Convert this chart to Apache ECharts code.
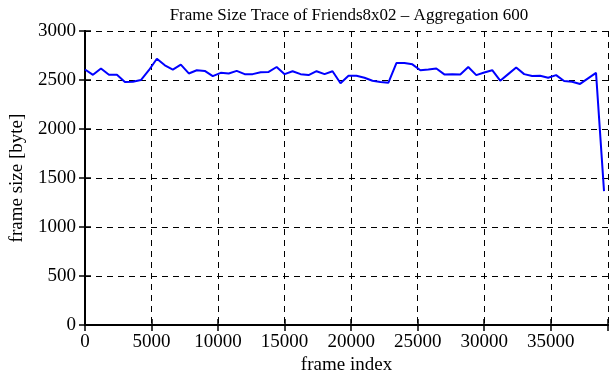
<!DOCTYPE html>
<html>
<head>
<meta charset="utf-8">
<script src="https://cdn.jsdelivr.net/npm/echarts@6/dist/echarts.min.js"></script>
<style>
  html, body { margin: 0; padding: 0; background: #fff; }
  #main { width: 611px; height: 380px; }
</style>
</head>
<body>
<div id="main"></div>
<script>
// frame index of each aggregated point (aggregation 600)
var frameIndex = [
    0, 600, 1200, 1800, 2400, 3000, 3600, 4200, 4800, 5400,
    6000, 6600, 7200, 7800, 8400, 9000, 9600, 10200, 10800, 11400,
    12000, 12600, 13200, 13800, 14400, 15000, 15600, 16200, 16800, 17400,
    18000, 18600, 19200, 19800, 20400, 21000, 21600, 22200, 22800, 23400,
    24000, 24600, 25200, 25800, 26400, 27000, 27600, 28200, 28800, 29400,
    30000, 30600, 31200, 31800, 32400, 33000, 33600, 34200, 34800, 35400,
    36000, 36600, 37200, 37800, 38400, 39000
];
// frame size in bytes
var frameSize = [
    2607, 2553, 2617, 2553, 2553, 2480, 2483, 2500, 2600, 2717,
    2650, 2607, 2657, 2567, 2600, 2593, 2540, 2573, 2567, 2593,
    2560, 2560, 2580, 2583, 2633, 2560, 2590, 2560, 2550, 2590,
    2560, 2590, 2467, 2543, 2543, 2523, 2493, 2480, 2473, 2673,
    2673, 2660, 2600, 2607, 2617, 2557, 2560, 2557, 2633, 2550,
    2577, 2600, 2493, 2560, 2627, 2560, 2540, 2543, 2523, 2550,
    2490, 2483, 2460, 2517, 2573, 1367
];
var xTicks = [0, 5000, 10000, 15000, 20000, 25000, 30000, 35000];
var yTicks = [0, 500, 1000, 1500, 2000, 2500, 3000];

var font = 'Liberation Serif';
var pts = [];
for (var i = 0; i < frameIndex.length; i++) {
    pts.push([frameIndex[i], frameSize[i]]);
}

var chart = echarts.init(document.getElementById('main'));

var dashed = { show: true, lineStyle: { color: '#000', type: [6, 5], width: 1 } };
var axLine = { show: true, lineStyle: { color: '#000', width: 2 } };
var tickIn = { show: true, inside: true, length: 6, lineStyle: { color: '#000', width: 1.5 } };

var option = {
    animation: false,
    backgroundColor: '#fff',
    title: {
        text: 'Frame Size Trace of Friends8x02 \u2013 Aggregation 600',
        left: 344,
        textAlign: 'center',
        top: 2,
        textStyle: { fontFamily: font, fontSize: 17, fontWeight: 'normal', color: '#000' }
    },
    grid: { left: 81, right: 3, top: 31, bottom: 50 },
    xAxis: [{
        type: 'value',
        min: 0,
        max: 39300,
        interval: 5000,
        name: 'frame index',
        nameLocation: 'middle',
        nameGap: 29,
        nameTextStyle: { fontFamily: font, fontSize: 19, color: '#000' },
        axisLine: axLine,
        axisTick: tickIn,
        splitLine: dashed,
        axisLabel: {
            fontFamily: font, fontSize: 19, color: '#000', margin: 7,
            formatter: function (v) { return xTicks.indexOf(v) >= 0 ? String(v) : ''; }
        }
    }, {
        type: 'value',
        position: 'top',
        min: 0,
        max: 39300,
        interval: 5000,
        axisLine: axLine,
        axisTick: tickIn,
        axisLabel: { show: false },
        splitLine: { show: false }
    }],
    yAxis: [{
        type: 'value',
        min: 0,
        max: 3000,
        interval: 500,
        name: 'frame size [byte]',
        nameLocation: 'middle',
        nameGap: 58,
        nameTextStyle: { fontFamily: font, fontSize: 19, color: '#000' },
        axisLine: axLine,
        axisTick: tickIn,
        splitLine: dashed,
        axisLabel: {
            fontFamily: font, fontSize: 19, color: '#000', margin: 9,
            formatter: function (v) { return yTicks.indexOf(v) >= 0 ? String(v) : ''; }
        }
    }, {
        type: 'value',
        position: 'right',
        min: 0,
        max: 3000,
        interval: 500,
        axisLine: axLine,
        axisTick: tickIn,
        axisLabel: { show: false },
        splitLine: { show: false }
    }],
    series: [{
        type: 'line',
        xAxisIndex: 0,
        yAxisIndex: 0,
        data: pts,
        showSymbol: false,
        lineStyle: { color: '#0000ff', width: 2 },
        itemStyle: { color: '#0000ff' }
    }]
};
chart.setOption(option);
</script>
</body>
</html>
